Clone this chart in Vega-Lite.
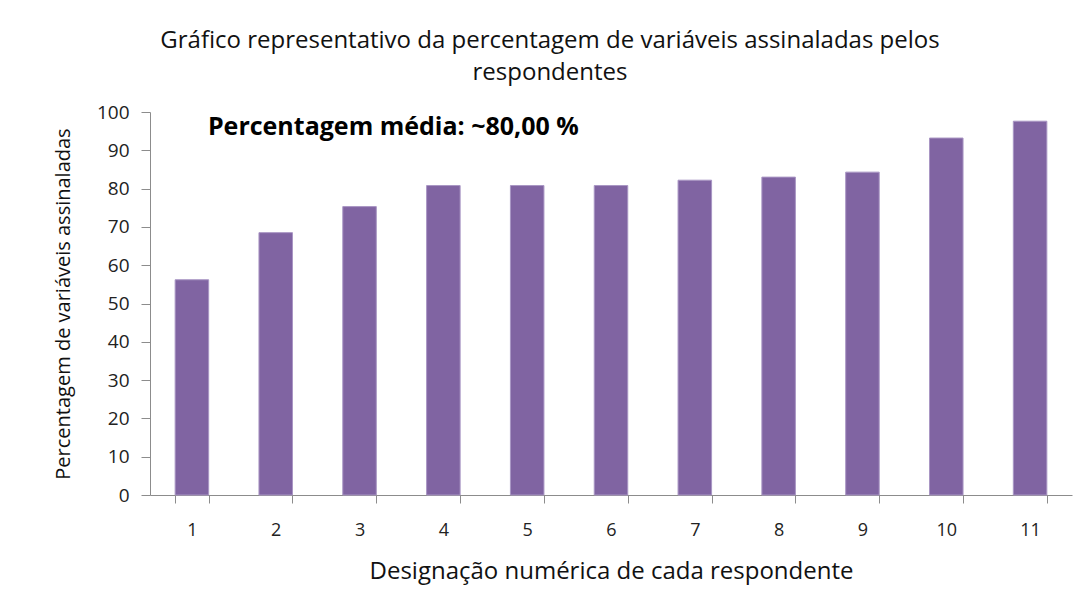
{
  "$schema": "https://vega.github.io/schema/vega-lite/v6.json",
  "autosize": "none",
  "width": 922,
  "height": 383,
  "padding": {"left": 150, "top": 112, "right": 12, "bottom": 101},
  "background": "white",
  "config": {
    "view": {"stroke": null},
    "font": "Open Sans",
    "axis": {"grid": false, "domainColor": "#8c8c8c", "tickColor": "#8c8c8c", "labelColor": "#222", "titleColor": "#111", "labelFont": "Open Sans", "titleFont": "Open Sans", "labelOverlap": false}
  },
  "title": {
    "text": ["Gráfico representativo da percentagem de variáveis assinaladas  pelos", "respondentes"],
    "font": "Open Sans",
    "fontSize": 24,
    "fontWeight": "normal",
    "color": "#111",
    "lineHeight": 32,
    "anchor": "middle",
    "dx": -61,
    "offset": 18
  },
  "data": {
    "values": [
      {"respondente": "1", "percentagem": 56.2},
      {"respondente": "2", "percentagem": 68.5},
      {"respondente": "3", "percentagem": 75.3},
      {"respondente": "4", "percentagem": 80.8},
      {"respondente": "5", "percentagem": 80.8},
      {"respondente": "6", "percentagem": 80.8},
      {"respondente": "7", "percentagem": 82.2},
      {"respondente": "8", "percentagem": 83.0},
      {"respondente": "9", "percentagem": 84.3},
      {"respondente": "10", "percentagem": 93.2},
      {"respondente": "11", "percentagem": 97.6}
    ]
  },
  "layer": [
    {
      "mark": {"type": "bar", "color": "#8064A2", "stroke": "#a996c4", "strokeWidth": 1},
      "encoding": {
        "x": {
          "field": "respondente",
          "type": "ordinal",
          "sort": ["1", "2", "3", "4", "5", "6", "7", "8", "9", "10", "11"],
          "scale": {"paddingInner": 0.6, "paddingOuter": 0.3},
          "axis": {
            "title": "Designação numérica de cada respondente",
            "titleFontSize": 24,
            "titleFontWeight": "normal",
            "titlePadding": 20,
            "labelAngle": 0,
            "labelFontSize": 18,
            "labelPadding": 18,
            "tickBand": "extent",
            "tickSize": 8
          }
        },
        "y": {
          "field": "percentagem",
          "type": "quantitative",
          "scale": {"domain": [0, 100], "nice": false},
          "axis": {
            "title": "Percentagem de variáveis assinaladas",
            "titleFontSize": 20,
            "titleFontWeight": "normal",
            "titlePadding": 23,
            "values": [0, 10, 20, 30, 40, 50, 60, 70, 80, 90, 100],
            "tickCount": 11,
            "labelOverlap": false,
            "labelFontSize": 19,
            "labelPadding": 12,
            "tickSize": 9
          }
        }
      }
    },
    {
      "data": {"values": [{"respondente": "1", "pos": 96, "label": "Percentagem média: ~80,00 %"}]},
      "mark": {"type": "text", "align": "left", "baseline": "middle", "dx": 16, "fontSize": 25, "fontWeight": "bold", "font": "Open Sans", "color": "#000"},
      "encoding": {
        "x": {"field": "respondente", "type": "ordinal", "sort": ["1", "2", "3", "4", "5", "6", "7", "8", "9", "10", "11"]},
        "y": {"field": "pos", "type": "quantitative"},
        "text": {"field": "label"}
      }
    }
  ]
}
